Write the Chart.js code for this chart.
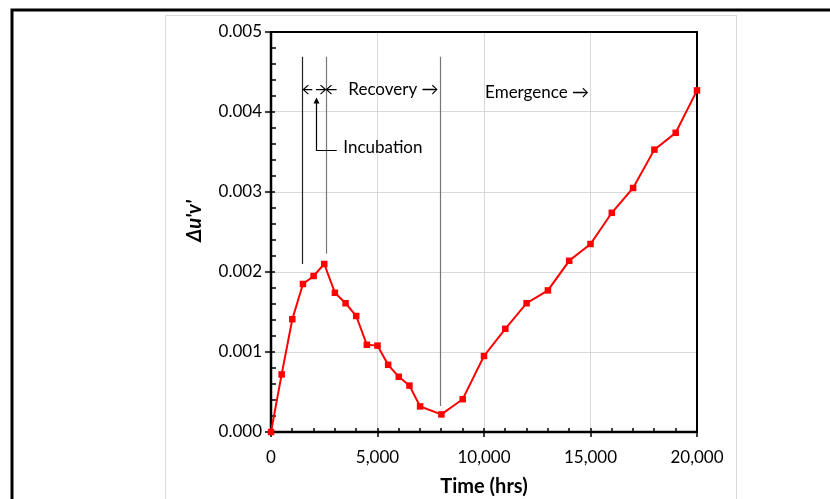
<!DOCTYPE html>
<html>
<head>
<meta charset="utf-8">
<script src="https://cdn.jsdelivr.net/npm/chart.js@4.4.1/dist/chart.umd.min.js"></script>
<style>
  body { margin: 0; background: #fff; }
  canvas { display: block; }
</style>
</head>
<body>
<canvas id="grafico" width="830" height="499"></canvas>
<script>
// tiempo (h) y desplazamiento de color medido
const tiempoHrs = [0, 500, 1000, 1500, 2000, 2500, 3000, 3500, 4000, 4500, 5000, 5500, 6000, 6500, 7000,
    8000, 9000, 10000, 11000, 12000, 13000, 14000, 15000, 16000, 17000, 18000, 19000, 20000];
const deltaUV = [0, 0.00072, 0.00141, 0.00185, 0.00195, 0.00210, 0.00174, 0.00161, 0.00145, 0.00109, 0.00108,
    0.00084, 0.00069, 0.00058, 0.00032, 0.00022, 0.00041, 0.00095, 0.00129, 0.00161, 0.00177, 0.00214,
    0.00235, 0.00274, 0.00305, 0.00353, 0.00374, 0.00427];
const ticksX = [0, 5000, 10000, 15000, 20000];
const ticksY = [0, 0.001, 0.002, 0.003, 0.004, 0.005];

// lineas verticales que separan las etapas (en unidades de datos)
const lineasEtapa = [
    { x: 1470, y0: 0.0021, y1: 0.00469, color: '#222' },
    { x: 2560, y0: 0.00223, y1: 0.00469, color: '#777' },
    { x: 7950, y0: 0.000325, y1: 0.00469, color: '#777' }
];
const yFlechas = 0.00428;
const textos = [
    { texto: 'Recovery \u2192', x: 3630, y: 0.004275 },
    { texto: 'Incubation', x: 3395, y: 0.00356 },
    { texto: 'Emergence \u2192', x: 10050, y: 0.004246 }
];

const FUENTE = 'Lato, "Open Sans", sans-serif';

function flecha(ctx, xDesde, xHasta, y) {
    // flecha abierta con la punta en xHasta
    const dir = xHasta > xDesde ? 1 : -1;
    ctx.beginPath();
    ctx.moveTo(xDesde, y);
    ctx.lineTo(xHasta, y);
    ctx.moveTo(xHasta - dir * 5, y - 4.5);
    ctx.lineTo(xHasta, y);
    ctx.lineTo(xHasta - dir * 5, y + 4.5);
    ctx.stroke();
}

const decoracion = {
    id: 'decoracion',
    beforeDraw(chart) {
        const ctx = chart.ctx;
        ctx.save();
        ctx.fillStyle = '#fff';
        ctx.fillRect(0, 0, chart.width, chart.height);
        // marco exterior negro
        ctx.strokeStyle = '#000';
        ctx.lineWidth = 3;
        ctx.beginPath();
        ctx.moveTo(12, chart.height + 5);
        ctx.lineTo(12, 10);
        ctx.lineTo(chart.width + 5, 10);
        ctx.stroke();
        // recuadro gris del area del grafico
        ctx.strokeStyle = '#d9d9d9';
        ctx.lineWidth = 1;
        ctx.strokeRect(165.5, 15.5, 571, chart.height);
        ctx.restore();
    },
    beforeDatasetsDraw(chart) {
        const ctx = chart.ctx;
        const a = chart.chartArea;
        const sx = chart.scales.x, sy = chart.scales.y;
        ctx.save();
        ctx.strokeStyle = '#000';
        ctx.lineWidth = 2;
        ctx.strokeRect(a.left, a.top, a.right - a.left, a.bottom - a.top);
        // ejes izquierdo e inferior algo mas gruesos
        ctx.lineWidth = 2.5;
        ctx.beginPath();
        ctx.moveTo(a.left, a.top);
        ctx.lineTo(a.left, a.bottom);
        ctx.lineTo(a.right, a.bottom);
        ctx.stroke();
        ctx.lineWidth = 1.5;
        ctx.beginPath();
        for (let i = 0; i <= 25; i++) {
            const py = Math.round(sy.getPixelForValue(i * 0.0002));
            if (i % 5 === 0) { ctx.moveTo(a.left - 6, py); ctx.lineTo(a.left + 4, py); }
            else { ctx.moveTo(a.left, py); ctx.lineTo(a.left + 5, py); }
        }
        for (let i = 0; i <= 20; i++) {
            const px = Math.round(sx.getPixelForValue(i * 1000));
            if (i % 5 === 0) { ctx.moveTo(px, a.bottom - 4); ctx.lineTo(px, a.bottom + 5); }
            else { ctx.moveTo(px, a.bottom - 4); ctx.lineTo(px, a.bottom); }
        }
        ctx.stroke();

        // titulos de los ejes
        ctx.fillStyle = '#000';
        ctx.textAlign = 'center';
        ctx.textBaseline = 'middle';
        ctx.font = 'bold 20px ' + FUENTE;
        ctx.fillText('Time (hrs)', (a.left + a.right) / 2, 487);
        ctx.translate(195, 221);
        ctx.rotate(-Math.PI / 2);
        ctx.font = 'italic bold 20px ' + FUENTE;
        ctx.fillText("\u0394u'v'", 0, 0);
        ctx.restore();
    },
    afterDatasetsDraw(chart) {
        const ctx = chart.ctx;
        const sx = chart.scales.x, sy = chart.scales.y;
        ctx.save();
        lineasEtapa.forEach(l => {
            const px = Math.round(sx.getPixelForValue(l.x)) + 0.5;
            ctx.strokeStyle = l.color;
            ctx.lineWidth = 1.2;
            ctx.beginPath();
            ctx.moveTo(px, sy.getPixelForValue(l.y0));
            ctx.lineTo(px, sy.getPixelForValue(l.y1));
            ctx.stroke();
        });

        // flechas de incubacion y recuperacion
        ctx.strokeStyle = '#000';
        ctx.lineWidth = 1.2;
        const yf = sy.getPixelForValue(yFlechas);
        const x1 = sx.getPixelForValue(lineasEtapa[0].x);
        const x2 = sx.getPixelForValue(lineasEtapa[1].x);
        flecha(ctx, sx.getPixelForValue(1940), x1 + 1, yf);
        flecha(ctx, sx.getPixelForValue(2110), x2, yf);
        flecha(ctx, sx.getPixelForValue(3080), x2 + 1, yf);

        // indicador de "Incubation"
        const xi = Math.round(sx.getPixelForValue(2100)) + 0.5;
        const yArriba = sy.getPixelForValue(0.00418);
        const yAbajo = Math.round(sy.getPixelForValue(0.003525)) + 0.5;
        ctx.beginPath();
        ctx.moveTo(sx.getPixelForValue(3085), yAbajo);
        ctx.lineTo(xi, yAbajo);
        ctx.lineTo(xi, yArriba + 4);
        ctx.stroke();
        ctx.fillStyle = '#000';
        ctx.beginPath();
        ctx.moveTo(xi, yArriba);
        ctx.lineTo(xi - 3, yArriba + 6);
        ctx.lineTo(xi + 3, yArriba + 6);
        ctx.closePath();
        ctx.fill();

        ctx.font = '17px ' + FUENTE;
        ctx.textAlign = 'left';
        ctx.textBaseline = 'middle';
        textos.forEach(t => {
            ctx.fillText(t.texto, sx.getPixelForValue(t.x), sy.getPixelForValue(t.y));
        });
        ctx.restore();
    }
};

const puntos = tiempoHrs.map((t, i) => ({ x: t, y: deltaUV[i] }));

new Chart(document.getElementById('grafico'), {
    type: 'line',
    data: {
        datasets: [{
            label: "\u0394u'v'",
            data: puntos,
            borderColor: '#ff0000',
            backgroundColor: '#ff0000',
            borderWidth: 2,
            pointStyle: 'rect',
            pointRadius: 4.6,
            pointBorderWidth: 0,
            tension: 0,
            clip: false
        }]
    },
    options: {
        responsive: false,
        animation: false,
        layout: { padding: { left: 0, top: 32, right: 133, bottom: 0 } },
        plugins: { legend: { display: false }, tooltip: { enabled: false } },
        scales: {
            x: {
                type: 'linear',
                min: 0,
                max: 20000,
                afterFit: s => { s.height = 67; },
                afterBuildTicks: s => { s.ticks = ticksX.map(v => ({ value: v })); },
                grid: { color: '#d9d9d9', lineWidth: 1, drawTicks: false },
                border: { display: false },
                ticks: {
                    padding: 15,
                    color: '#000',
                    font: { family: FUENTE, size: 17 },
                    maxRotation: 0,
                    callback: v => v.toLocaleString('en-US')
                }
            },
            y: {
                type: 'linear',
                min: 0,
                max: 0.005,
                afterFit: s => { s.width = 271; },
                afterBuildTicks: s => { s.ticks = ticksY.map(v => ({ value: v })); },
                grid: { color: '#d9d9d9', lineWidth: 1, drawTicks: false },
                border: { display: false },
                ticks: {
                    padding: 9,
                    color: '#000',
                    font: { family: FUENTE, size: 17 },
                    callback: v => v.toFixed(3)
                }
            }
        }
    },
    plugins: [decoracion]
});
</script>
</body>
</html>
